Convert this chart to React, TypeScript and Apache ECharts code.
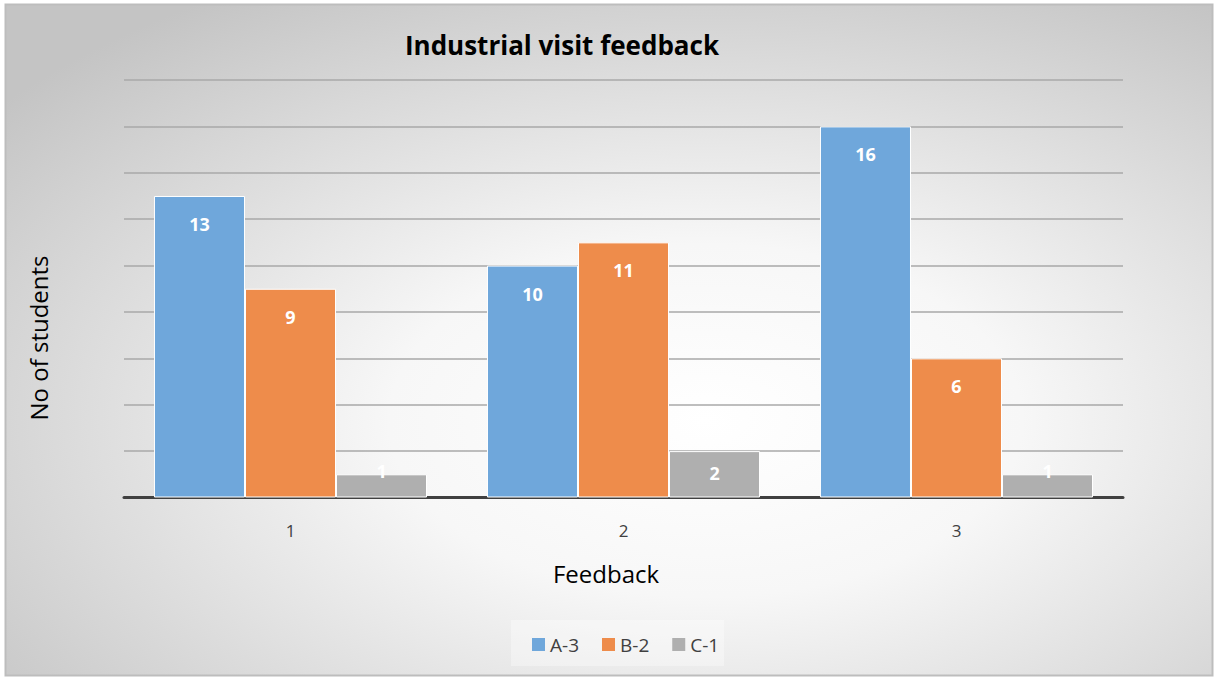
import React, { useEffect, useRef } from "react";
import * as echarts from "echarts";

const categories = ["1", "2", "3"];
const seriesNames = ["A-3", "B-2", "C-1"];
const valuesA = [13, 10, 16];
const valuesB = [9, 11, 6];
const valuesC = [1, 2, 1];
const colors = ["#6fa7db", "#ee8c4b", "#afafaf"];
const titleText = "Industrial visit feedback";
const xAxisTitle = "Feedback";
const yAxisTitle = "No of students";

const FONT = "'Open Sans', 'Noto Sans', sans-serif";

function makeData(vals: number[]) {
  return vals.map((v) => {
    if (v <= 1) {
      return { value: v, label: { position: "top", distance: -6 } };
    }
    if (v <= 2) {
      return { value: v, label: { position: "insideTop", distance: 13 } };
    }
    return { value: v };
  });
}

export default function App() {
  const ref = useRef<HTMLDivElement>(null);
  useEffect(() => {
    if (!ref.current) return;
    const chart = echarts.init(ref.current, undefined, { renderer: "svg" });
    const all = [valuesA, valuesB, valuesC];
    chart.setOption({
      animation: false,
      backgroundColor: "#ffffff",
      graphic: [
        {
          type: "rect",
          z: -10,
          silent: true,
          shape: { x: 5.5, y: 4.5, width: 1207, height: 671 },
          style: {
            fill: new echarts.graphic.RadialGradient(0.58, 0.62, 0.75, [
              { offset: 0, color: "#ffffff" },
              { offset: 0.35, color: "#f7f7f7" },
              { offset: 1, color: "#c4c4c4" },
            ]),
            stroke: "#bdbdbd",
            lineWidth: 2,
          },
        },
        {
          type: "rect",
          z: -5,
          silent: true,
          shape: { x: 511, y: 620, width: 213, height: 46 },
          style: { fill: "rgba(255,255,255,0.35)" },
        },
        {
          type: "text",
          x: 606,
          y: 573,
          style: {
            text: xAxisTitle,
            fontFamily: FONT,
            fontSize: 24,
            fill: "#000000",
            align: "center",
            verticalAlign: "middle",
          },
        },
        {
          type: "text",
          x: 38,
          y: 338,
          rotation: Math.PI / 2,
          style: {
            text: yAxisTitle,
            fontFamily: FONT,
            fontSize: 24,
            fill: "#000000",
            align: "center",
            verticalAlign: "middle",
          },
        },
      ],
      title: {
        text: titleText,
        left: 557,
        top: 27,
        textAlign: "center",
        textStyle: {
          fontFamily: FONT,
          fontWeight: "bold",
          fontSize: 26,
          color: "#000000",
        },
      },
      legend: {
        data: seriesNames,
        left: 527,
        top: 630,
        icon: "rect",
        itemWidth: 13,
        itemHeight: 13,
        itemGap: 23,
        itemStyle: { borderWidth: 0 },
        textStyle: { fontFamily: FONT, fontSize: 19, color: "#404040" },
      },
      grid: { left: 124, right: 93, top: 80, bottom: 181.5, containLabel: false },
      xAxis: {
        type: "category",
        data: categories,
        axisLine: { show: true, lineStyle: { color: "#404040", width: 3 } },
        axisTick: { show: false },
        axisLabel: {
          fontFamily: FONT,
          fontSize: 17,
          color: "#404040",
          margin: 24,
        },
      },
      yAxis: {
        type: "value",
        min: 0,
        max: 18,
        interval: 2,
        axisLabel: { show: false },
        axisLine: { show: false },
        axisTick: { show: false },
        splitLine: { show: true, lineStyle: { color: "#a8a8a8", width: 1.5 } },
      },
      series: seriesNames.map((name, i) => ({
        name,
        type: "bar",
        data: makeData(all[i]),
        barGap: "0%",
        barCategoryGap: "18%",
        itemStyle: { color: colors[i], borderColor: "#ffffff", borderWidth: 1 },
        label: {
          show: true,
          position: "insideTop",
          distance: 19,
          color: "#ffffff",
          fontFamily: FONT,
          fontWeight: "bold",
          fontSize: 18,
        },
      })),
    });
    return () => chart.dispose();
  }, []);
  return (
    <div
      ref={ref}
      style={{ position: "fixed", left: 0, top: 0, width: 1216, height: 679 }}
    />
  );
}
